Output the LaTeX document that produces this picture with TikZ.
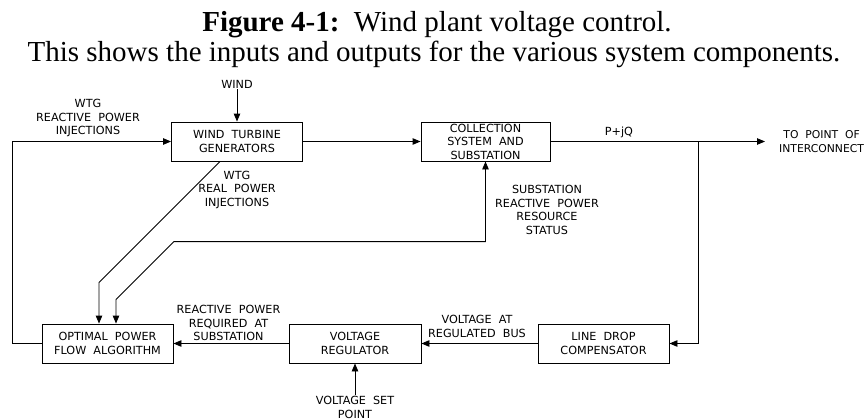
\documentclass[tikz,border=0pt]{standalone}
\usepackage{fontspec}
\setmainfont{Liberation Serif}
\newfontfamily\cadfont[WordSpace=2]{DejaVu Sans}
\usetikzlibrary{positioning,arrows.meta}

\begin{document}
\begin{tikzpicture}[
  x=1pt,y=-1pt,
  unit/.style={rectangle,draw,line width=0.9pt,minimum width=131pt,minimum height=39pt,inner sep=0pt,align=center,font=\cadfont\fontsize{11.2}{13.5}\selectfont},
  tag/.style={align=center,inner sep=1pt,font=\cadfont\fontsize{11.2}{13.5}\selectfont},
  arrow/.style={-{Triangle[length=8pt,width=6.5pt]},line width=0.9pt},
  twoway/.style={{Triangle[length=8pt,width=6.5pt]}-{Triangle[length=8pt,width=6.5pt]},line width=0.9pt}
]
  \useasboundingbox (0,0) rectangle (868,420);

  % caption
  \node[anchor=base,font=\fontsize{29}{30}\selectfont] (title) at (437,32) {\textbf{Figure 4-1:}\ \ Wind plant voltage control.};
  \node[anchor=base,font=\fontsize{29}{30}\selectfont] (subtitle) at (434,62) {This shows the inputs and outputs for the various system components.};

  % blocks
  \node[unit] (wtg) at (237,141.5) {WIND TURBINE\\GENERATORS};
  \node[unit,minimum width=129pt] (col) at (485.5,141.5) {COLLECTION\\SYSTEM AND\\SUBSTATION};
  \node[unit] (opf) at (107.5,343.5) {OPTIMAL POWER\\FLOW ALGORITHM};
  \node[unit,minimum width=132pt] (vreg) at (355,343.5) {VOLTAGE\\REGULATOR};
  \node[unit] (ldc) at (603.5,343.5) {LINE DROP\\COMPENSATOR};

  % labels
  \node[tag] (wind) at (237,84) {WIND};
  \node[tag] (wtgq) at (88,118) {WTG\\REACTIVE POWER\\INJECTIONS};
  \node[tag] (wtgp) at (237,189.5) {WTG\\REAL POWER\\INJECTIONS};
  \node[tag] (status) at (547,210) {SUBSTATION\\REACTIVE POWER\\RESOURCE\\STATUS};
  \node[tag] (pjq) at (619,132) {P+jQ};
  \coordinate (poi) at (765,141.5);
  \coordinate (tap) at (698,141.5);
  \node[tag,anchor=west,font=\cadfont\fontsize{10.8}{13.5}\selectfont] (poitxt) at (778,141.5) {TO POINT OF\\INTERCONNECT};
  \node[tag] (qreq) at (228.5,323) {REACTIVE POWER\\REQUIRED AT\\SUBSTATION};
  \node[tag] (vbus) at (477,326.5) {VOLTAGE AT\\REGULATED BUS};
  \node[tag] (vsp) at (355,407.5) {VOLTAGE SET\\POINT};

  % signal paths
  \draw[arrow] (wind) -- (wtg);
  \draw[arrow] (wtg) -- (col);
  \draw[arrow] (col) -- (poi);
  \draw[arrow] (tap) |- (ldc);
  \draw[arrow] (ldc) -- (vreg);
  \draw[arrow] (vreg) -- (opf);
  \draw[arrow] (vsp) -- (vreg);
  \draw[arrow] (opf.west) -- ++(-29,0) |- (wtg.west);
  \draw[arrow] ([xshift=-17pt]wtg.south) -- ++(-121,121) -- ([xshift=-8.5pt]opf.north);
  \draw[twoway] ([xshift=8.5pt]opf.north) -- ++(0,-24) -- ++(58,-58) -| (col.south);
\end{tikzpicture}
\end{document}
